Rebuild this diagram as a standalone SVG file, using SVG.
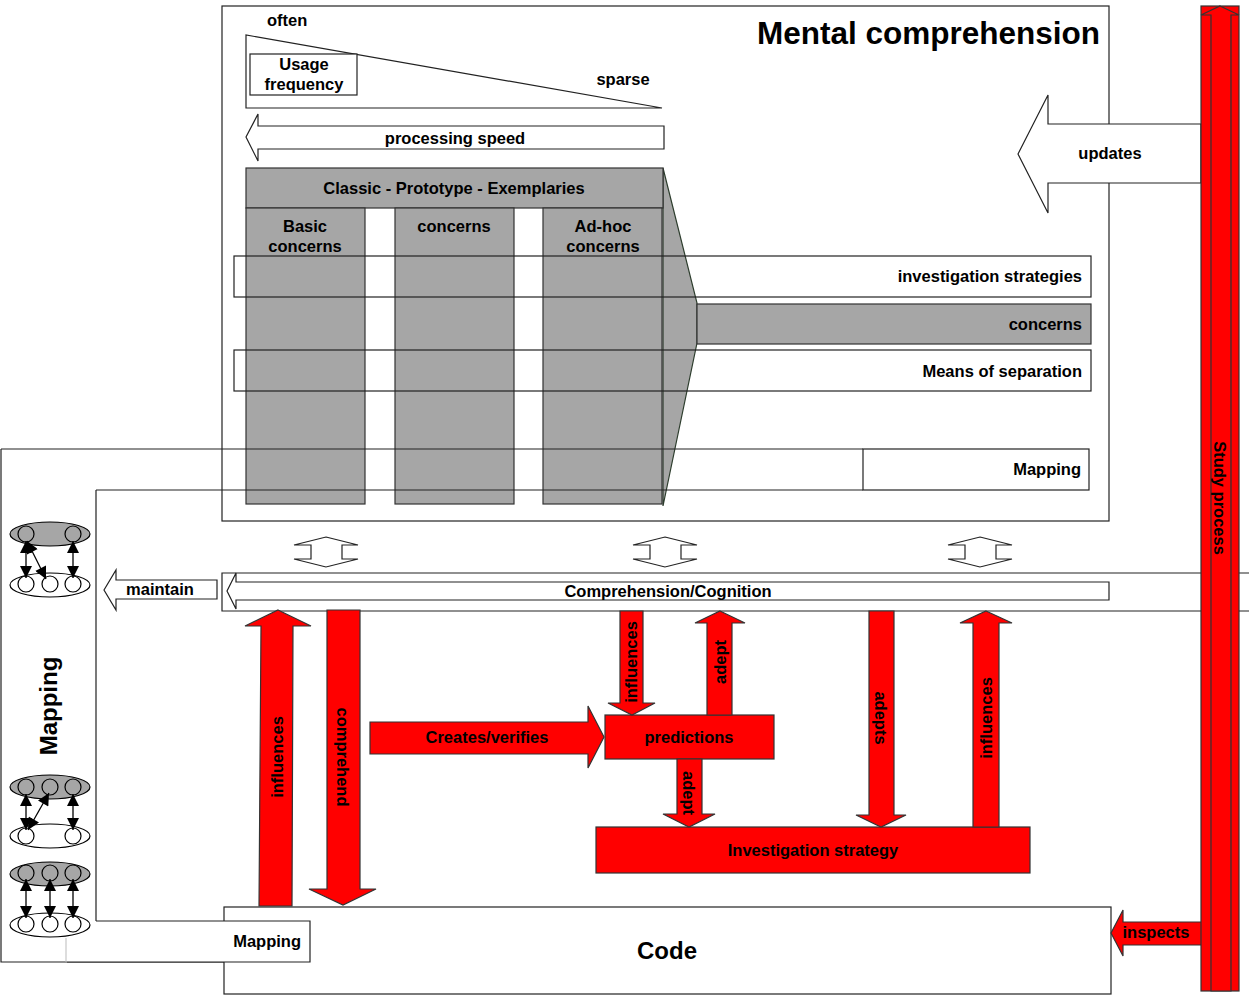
<svg xmlns="http://www.w3.org/2000/svg" width="1249" height="1002" viewBox="0 0 1249 1002">
<style>
text{font-family:"Liberation Sans",Arial,sans-serif;font-weight:bold;fill:#000;}
.lbl{font-size:16.5px;}
.c{text-anchor:middle;dominant-baseline:central;}
.r{text-anchor:end;dominant-baseline:central;}
.ln{fill:none;stroke:#222;stroke-width:1.2;}
.wb{fill:#fff;stroke:#222;stroke-width:1.2;}
.gr{fill:#a6a6a6;stroke:#333;stroke-width:1.2;}
.red{fill:#ff0000;stroke:#333;stroke-width:1.2;}
.ic{fill:none;stroke:#000;stroke-width:1.2;}
.ia{stroke:#000;stroke-width:1.3;marker-start:url(#ah);marker-end:url(#ah);}
</style>
<defs>
<marker id="ah" viewBox="0 0 10 10" refX="10" refY="5" markerWidth="13" markerHeight="12" markerUnits="userSpaceOnUse" orient="auto-start-reverse">
<path d="M0,0 L10,5 L0,10 Z" fill="#000"/>
</marker>
</defs>

<g id="mental-comprehension">
<rect x="222" y="6" width="887" height="515" class="wb"/>
<text x="1100" y="33" style="font-size:31.5px" text-anchor="end" dominant-baseline="central">Mental comprehension</text>
</g>

<g id="usage-frequency">
<text x="267" y="20" class="lbl" dominant-baseline="central">often</text>
<polygon points="246,35 246,108 662,108" class="wb"/>
<rect x="250" y="54" width="107" height="41" class="wb"/>
<text x="304" y="64" class="lbl c">Usage</text>
<text x="304" y="84" class="lbl c">frequency</text>
<text x="623" y="79" class="lbl c">sparse</text>
</g>

<g id="processing-speed">
<polygon points="246,137 258,114 258,126 664,126 664,149 258,149 258,161" class="wb"/>
<text x="455" y="138" class="lbl c">processing speed</text>
</g>

<g id="categories">
<polygon points="663,168 697,303 697,343 663,506" fill="#a6a6a6" stroke="#2d3d2d" stroke-width="1.2"/>
<rect x="697" y="304" width="394" height="40" class="gr"/>
<text x="1082" y="324" class="lbl r">concerns</text>
<rect x="246" y="168" width="417" height="40" class="gr"/>
<text x="454" y="188" class="lbl c">Classic - Prototype - Exemplaries</text>
<rect x="246" y="208" width="119" height="296" class="gr"/>
<rect x="395" y="208" width="119" height="296" class="gr"/>
<rect x="543" y="208" width="119" height="296" class="gr"/>
<text x="305" y="226" class="lbl c">Basic</text>
<text x="305" y="246" class="lbl c">concerns</text>
<text x="454" y="226" class="lbl c">concerns</text>
<text x="603" y="226" class="lbl c">Ad-hoc</text>
<text x="603" y="246" class="lbl c">concerns</text>
</g>

<g id="investigation-strategies">
<rect x="234" y="256" width="857" height="41" class="ln"/>
<text x="1082" y="276" class="lbl r">investigation strategies</text>
</g>

<g id="means-of-separation">
<rect x="234" y="350" width="857" height="41" class="ln"/>
<text x="1082" y="371" class="lbl r">Means of separation</text>
</g>

<g id="mapping">
<path d="M1,449 H863 M96,490 H863 M96,490 V921 M1,449 V962 H310" class="ln"/>
<rect x="863" y="449" width="226" height="41" class="wb"/>
<text x="1081" y="469" class="lbl r">Mapping</text>
<text transform="translate(48,706) rotate(-90)" style="font-size:24px" class="c">Mapping</text>
</g>

<g id="updates">
<polygon points="1018,154 1048,95 1048,124 1201,124 1201,183 1048,183 1048,213" class="wb"/>
<text x="1110" y="153" class="lbl c">updates</text>
</g>

<g id="exchange-arrows">
<polygon points="326,537 358,545 342,545 342,559 358,559 326,567 294,559 311,559 311,545 294,545" class="wb"/>
<polygon points="665,537 697,545 681,545 681,559 697,559 665,567 633,559 650,559 650,545 633,545" class="wb"/>
<polygon points="980,537 1012,545 996,545 996,559 1012,559 980,567 948,559 965,559 965,545 948,545" class="wb"/>
</g>

<g id="comprehension-cognition">
<path d="M1249,573 H222 V611 H1249" class="ln"/>
<polygon points="227,591 236,573 236,582 1109,582 1109,600 236,600 236,609" class="wb"/>
<text x="668" y="591" class="lbl c">Comprehension/Cognition</text>
</g>

<g id="maintain">
<polygon points="104,590 116,570 116,580 217,580 217,599 116,599 116,610" class="wb"/>
<text x="160" y="589" class="lbl c">maintain</text>
</g>

<g id="code">
<rect x="224" y="907" width="887" height="87" class="wb"/>
<text x="667" y="950" style="font-size:24px" class="c">Code</text>
</g>

<g id="mapping-code">
<rect x="67" y="921" width="243" height="41" fill="#fff"/>
<path d="M96,921 H310 V962 H67" class="ln"/>
<line x1="66" y1="938" x2="66" y2="962" stroke="#bbb" stroke-width="1"/>
<text x="301" y="941" class="lbl r">Mapping</text>
</g>

<g id="mapping-icons">
<ellipse cx="50" cy="534" rx="40" ry="12" fill="#a6a6a6" stroke="#000" stroke-width="1.2"/>
<circle cx="26" cy="534" r="8" class="ic"/>
<circle cx="73" cy="534" r="8" class="ic"/>
<ellipse cx="50" cy="585" rx="40" ry="12" class="ic"/>
<circle cx="26" cy="584" r="8" class="ic"/>
<circle cx="50" cy="584" r="8" class="ic"/>
<circle cx="73" cy="584" r="8" class="ic"/>
<line x1="26" y1="541" x2="26" y2="578" class="ia"/>
<line x1="73" y1="541" x2="73" y2="578" class="ia"/>
<line x1="27" y1="541" x2="46" y2="579" class="ia"/>

<ellipse cx="50" cy="787" rx="40" ry="12" fill="#a6a6a6" stroke="#000" stroke-width="1.2"/>
<circle cx="26" cy="787" r="8" class="ic"/>
<circle cx="50" cy="787" r="8" class="ic"/>
<circle cx="73" cy="787" r="8" class="ic"/>
<ellipse cx="50" cy="836" rx="40" ry="12" class="ic"/>
<circle cx="26" cy="836" r="8" class="ic"/>
<circle cx="73" cy="836" r="8" class="ic"/>
<line x1="26" y1="794" x2="26" y2="830" class="ia"/>
<line x1="73" y1="794" x2="73" y2="830" class="ia"/>
<line x1="49" y1="793" x2="28" y2="830" class="ia"/>

<ellipse cx="50" cy="874" rx="40" ry="12" fill="#a6a6a6" stroke="#000" stroke-width="1.2"/>
<circle cx="26" cy="873" r="8" class="ic"/>
<circle cx="50" cy="873" r="8" class="ic"/>
<circle cx="73" cy="873" r="8" class="ic"/>
<ellipse cx="50" cy="925" rx="40" ry="12" class="ic"/>
<circle cx="26" cy="924" r="8" class="ic"/>
<circle cx="50" cy="924" r="8" class="ic"/>
<circle cx="73" cy="924" r="8" class="ic"/>
<line x1="26" y1="879" x2="26" y2="918" class="ia"/>
<line x1="50" y1="879" x2="50" y2="918" class="ia"/>
<line x1="73" y1="879" x2="73" y2="918" class="ia"/>
</g>

<g id="predictions">
<rect x="605" y="715" width="169" height="44" class="red"/>
<text x="689" y="737" class="lbl c">predictions</text>
</g>

<g id="investigation-strategy">
<rect x="596" y="827" width="434" height="46" class="red"/>
<text x="813" y="850" class="lbl c">Investigation strategy</text>
</g>

<g id="connectors">
<polygon points="278,610 311,626 293,626 292,906 259,906 261,626 245,626" class="red"/>
<text transform="translate(277,757) rotate(-90)" class="lbl c">influences</text>
<polygon points="327,610 360,610 360,889 376,889 343,905 309,889 327,889" class="red"/>
<text transform="translate(343,757) rotate(90)" class="lbl c">comprehend</text>
<polygon points="370,722 588,722 588,706 604,737 588,768 588,754 370,754" class="red"/>
<text x="487" y="737" class="lbl c">Creates/verifies</text>
<polygon points="620,611 643,611 643,703 655,703 632,715 608,703 620,703" class="red"/>
<text transform="translate(631,662) rotate(-90)" class="lbl c">influences</text>
<polygon points="720,611 745,623 732,623 732,715 707,715 707,623 695,623" class="red"/>
<text transform="translate(720,662) rotate(-90)" class="lbl c">adept</text>
<polygon points="677,759 702,759 702,814 715,814 689,827 663,814 677,814" class="red"/>
<text transform="translate(689,793) rotate(90)" class="lbl c">adept</text>
<polygon points="869,611 894,611 894,815 906,815 881,827 856,815 869,815" class="red"/>
<text transform="translate(881,718) rotate(90)" class="lbl c">adepts</text>
<polygon points="986,611 1012,623 999,623 999,827 973,827 973,623 960,623" class="red"/>
<text transform="translate(986,718) rotate(-90)" class="lbl c">influences</text>
<polygon points="1111,933 1123,910 1123,922 1202,922 1202,945 1123,945 1123,956" class="red"/>
<text x="1156" y="932" class="lbl c">inspects</text>
</g>

<g id="study-process">
<rect x="1201" y="6" width="38" height="985" class="red"/>
<polygon points="1220,6 1239,15 1231,15 1231,991 1211,991 1211,15 1201,15" class="red"/>
<text transform="translate(1220,498) rotate(90)" class="lbl c">Study process</text>
</g>
</svg>
